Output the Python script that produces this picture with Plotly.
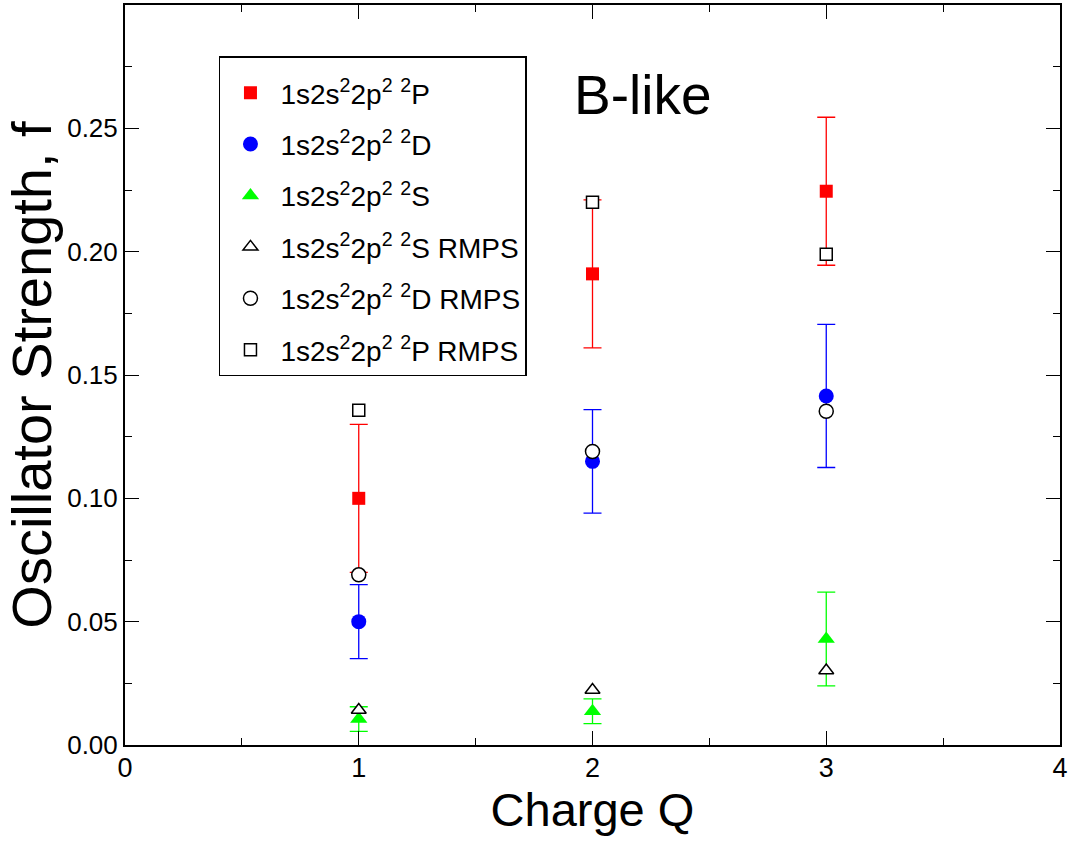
import plotly.graph_objects as go

Q = [1, 2, 3]

P_f = [0.100, 0.191, 0.2245]
P_err = [0.030, 0.030, 0.030]
D_f = [0.050, 0.115, 0.1415]
D_err = [0.015, 0.021, 0.029]
S_f = [0.0105, 0.0137, 0.0430]
S_err = [0.005, 0.0050, 0.019]

S_rmps = [0.0142, 0.0223, 0.0302]
D_rmps = [0.069, 0.119, 0.1353]
P_rmps = [0.1357, 0.2200, 0.1990]

lab = "1s2s<sup>2</sup>2p<sup>2</sup> <sup>2</sup>"
names = [lab + "P", lab + "D", lab + "S",
         lab + "S RMPS", lab + "D RMPS", lab + "P RMPS"]

REG = "Liberation Sans, Arial, sans-serif"

fig = go.Figure()

def filled(y, e, color, symbol, size, name, g):
    fig.add_trace(go.Scatter(
        x=Q, y=y, mode="markers", name=name, legendgroup=g,
        marker=dict(symbol=symbol, size=size, color=color, line=dict(width=0)),
        error_y=dict(type="data", array=e, visible=True, color=color,
                     thickness=1.3, width=9),
    ))

def hollow(y, symbol, size, name, g):
    fig.add_trace(go.Scatter(
        x=Q, y=y, mode="markers", name=name, legendgroup=g,
        marker=dict(symbol=symbol, size=size, color="white",
                    line=dict(width=1.5, color="black")),
    ))

filled(P_f, P_err, "#ff0000", "square", 13, names[0], "a")
filled(D_f, D_err, "#0000ff", "circle", 15, names[1], "b")
filled(S_f, S_err, "#00ff00", "triangle-up", 15, names[2], "c")
hollow(S_rmps, "triangle-up", 13, names[3], "d")
hollow(D_rmps, "circle", 14, names[4], "e")
hollow(P_rmps, "square", 12, names[5], "f")

axis_common = dict(
    showline=True, linecolor="black", linewidth=2, mirror="ticks",
    ticks="inside", tickcolor="black", tickwidth=1.3,
    showgrid=False, zeroline=False, automargin=False,
)

fig.update_xaxes(
    range=[0, 4], dtick=1, tick0=0, ticklen=14,
    tickfont=dict(family=REG, size=27, color="black"),
    ticklabelstandoff=-2,
    minor=dict(dtick=0.5, ticks="inside", ticklen=7, tickcolor="black", tickwidth=1.3),
    title=dict(text="Charge Q", font=dict(family=REG, size=47, color="black"), standoff=0),
    **axis_common,
)
fig.update_yaxes(
    range=[0, 0.30], dtick=0.05, tick0=0, tickformat=".2f", ticklen=14,
    tickfont=dict(family=REG, size=26, color="black"),
    minor=dict(dtick=0.025, ticks="inside", ticklen=7, tickcolor="black", tickwidth=1.3),
    title=dict(text="Oscillator Strength, f", font=dict(family=REG, size=56, color="black"), standoff=3),
    **axis_common,
)

fig.add_annotation(
    x=0.554, y=0.878, xref="paper", yref="paper", text="B-like", showarrow=False,
    xanchor="center", yanchor="middle",
    font=dict(family=REG, size=55, color="black"),
)

fig.update_layout(
    width=1071, height=842,
    margin=dict(l=125, r=11, t=5, b=97),
    paper_bgcolor="white", plot_bgcolor="white",
    showlegend=True,
    legend=dict(
        x=0.1005, y=0.931, xanchor="left", yanchor="top",
        bordercolor="black", borderwidth=1.5, bgcolor="white",
        font=dict(family=REG, size=28, color="black"),
        title=dict(text=" ", font=dict(size=8)),
        traceorder="grouped", tracegroupgap=12, itemwidth=50,
    ),
)

fig.write_html("out.html", config={"displayModeBar": False},
               post_script="document.body.style.margin='0px';")
